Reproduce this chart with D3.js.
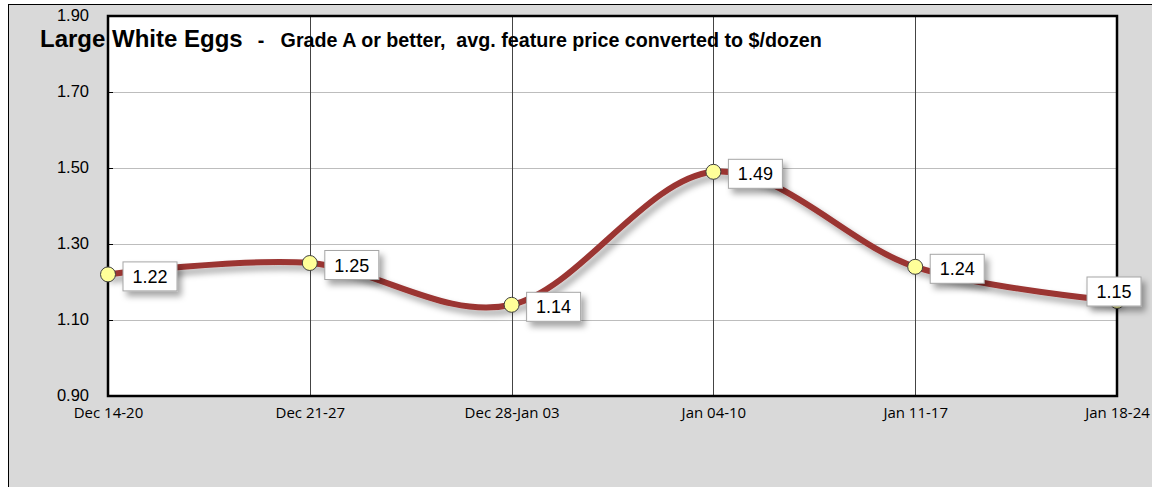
<!DOCTYPE html>
<html>
<head>
<meta charset="utf-8">
<script src="https://cdn.jsdelivr.net/npm/d3@7"></script>
<style>
  body { margin: 0; background: #fff; }
  svg { display: block; }
</style>
</head>
<body>
<div id="chart"></div>
<script>
// chart values
var weeks = ["Dec 14-20", "Dec 21-27", "Dec 28-Jan 03", "Jan 04-10", "Jan 11-17", "Jan 18-24"];
var prices = [1.22, 1.25, 1.14, 1.49, 1.24, 1.15];
var yTicks = [0.90, 1.10, 1.30, 1.50, 1.70, 1.90];

var width = 1152, height = 487;
var margin = { top: 16, left: 108, right: 35, bottom: 91 };

var svg = d3.select('#chart')
    .append('svg')
    .attr('width', width)
    .attr('height', height);

var defs = svg.append('defs');
var sh = defs.append('filter').attr('id', 'shadow')
    .attr('x', '-20%').attr('y', '-40%').attr('width', '150%').attr('height', '200%');
sh.append('feDropShadow').attr('dx', 4).attr('dy', 5).attr('stdDeviation', 3)
    .attr('flood-color', '#000').attr('flood-opacity', 0.35);

// grey chart background with frame
svg.append('rect')
    .attr('x', 8.5).attr('y', 4.5)
    .attr('width', width).attr('height', height)
    .attr('fill', '#d9d9d9')
    .attr('stroke', '#000').attr('stroke-width', 1);

var x_scale = d3.scalePoint()
    .domain(weeks)
    .range([margin.left, width - margin.right]);

var y_scale = d3.scaleLinear()
    .domain([0.9, 1.9])
    .range([height - margin.bottom, margin.top]);

var x0 = x_scale.range()[0], x1 = x_scale.range()[1];
var y0 = y_scale.range()[0], y1 = y_scale.range()[1];

// plot area
svg.append('rect')
    .attr('x', x0).attr('y', y1)
    .attr('width', x1 - x0).attr('height', y0 - y1)
    .attr('fill', '#fff');

// horizontal gridlines
svg.append('g')
    .selectAll('line')
    .data(yTicks.slice(1, -1))
    .enter().append('line')
    .attr('x1', x0).attr('x2', x1)
    .attr('y1', d => Math.round(y_scale(d)) + 0.5)
    .attr('y2', d => Math.round(y_scale(d)) + 0.5)
    .attr('stroke', '#bdbdbd').attr('stroke-width', 1);

// vertical gridlines
svg.append('g')
    .selectAll('line')
    .data(weeks.slice(1, -1))
    .enter().append('line')
    .attr('x1', d => Math.round(x_scale(d)) + 0.5)
    .attr('x2', d => Math.round(x_scale(d)) + 0.5)
    .attr('y1', y1).attr('y2', y0)
    .attr('stroke', '#444').attr('stroke-width', 1);

// y axis
var y_axis = d3.axisLeft(y_scale)
    .tickValues(yTicks)
    .tickFormat(d3.format('.2f'))
    .tickSize(-5)
    .tickPadding(19);

var yg = svg.append('g')
    .attr('class', 'y axis')
    .attr('transform', 'translate(' + x0 + ',0)')
    .call(y_axis);
yg.select('.domain').remove();
yg.selectAll('.tick line').attr('stroke', '#000').attr('stroke-width', 1);
yg.selectAll('.tick text')
    .attr('font-family', 'Liberation Sans, Arial, sans-serif')
    .attr('font-size', 16.5)
    .attr('dy', '0.28em')
    .attr('fill', '#000');

// x axis
var x_axis = d3.axisBottom(x_scale).tickSize(0).tickPadding(11);
var xg = svg.append('g')
    .attr('class', 'x axis')
    .attr('transform', 'translate(0,' + y0 + ')')
    .call(x_axis);
xg.select('.domain').remove();
xg.selectAll('.tick text')
    .attr('font-family', 'Open Sans, Calibri, sans-serif')
    .attr('font-size', 15)
    .attr('fill', '#000');

// plot border
svg.append('rect')
    .attr('x', x0).attr('y', y1)
    .attr('width', x1 - x0).attr('height', y0 - y1)
    .attr('fill', 'none')
    .attr('stroke', '#000').attr('stroke-width', 2.5);

// price line
var line = d3.line()
    .x((d, i) => x_scale(weeks[i]))
    .y(d => y_scale(d))
    .curve(d3.curveCardinal.tension(0));

svg.append('path')
    .datum(prices)
    .attr('d', line)
    .attr('fill', 'none')
    .attr('stroke', '#9b3432')
    .attr('stroke-width', 6)
    .attr('stroke-linecap', 'round')
    .attr('filter', 'url(#shadow)');

// markers
svg.append('g')
    .selectAll('circle')
    .data(prices)
    .enter().append('circle')
    .attr('cx', (d, i) => x_scale(weeks[i]))
    .attr('cy', d => y_scale(d))
    .attr('r', 7.5)
    .attr('fill', '#ffff99')
    .attr('stroke', '#404040')
    .attr('stroke-width', 1);

// value labels
var bw = 54, bh = 29;
var lbl = svg.append('g')
    .selectAll('g')
    .data(prices)
    .enter().append('g')
    .attr('transform', function (d, i) {
        var px = x_scale(weeks[i]), py = y_scale(d);
        var bx = i === prices.length - 1 ? px - bw / 2 - 3 : px + 15;
        var by = i === prices.length - 1 ? py - 24 : py - bh / 2 + 2;
        return 'translate(' + bx + ',' + by + ')';
    });
lbl.append('rect')
    .attr('width', bw).attr('height', bh)
    .attr('fill', '#fff')
    .attr('stroke', '#a6a6a6').attr('stroke-width', 1)
    .attr('filter', 'url(#shadow)');
lbl.append('text')
    .attr('x', bw / 2).attr('y', bh / 2 + 6.5)
    .attr('text-anchor', 'middle')
    .attr('font-family', 'Liberation Sans, Arial, sans-serif')
    .attr('font-size', 18)
    .attr('fill', '#000')
    .text(d => d.toFixed(2));

// title
var title = svg.append('text')
    .attr('x', 40).attr('y', 47)
    .attr('font-family', 'Liberation Sans, Arial, sans-serif')
    .attr('font-weight', 'bold')
    .attr('fill', '#000')
    .attr('xml:space', 'preserve');
title.append('tspan').attr('font-size', 24).text('Large White Eggs');
title.append('tspan').attr('font-size', 19.7).attr('dx', 4)
    .text('  -   Grade A or better,  avg. feature price converted to $/dozen');
</script>
</body>
</html>
